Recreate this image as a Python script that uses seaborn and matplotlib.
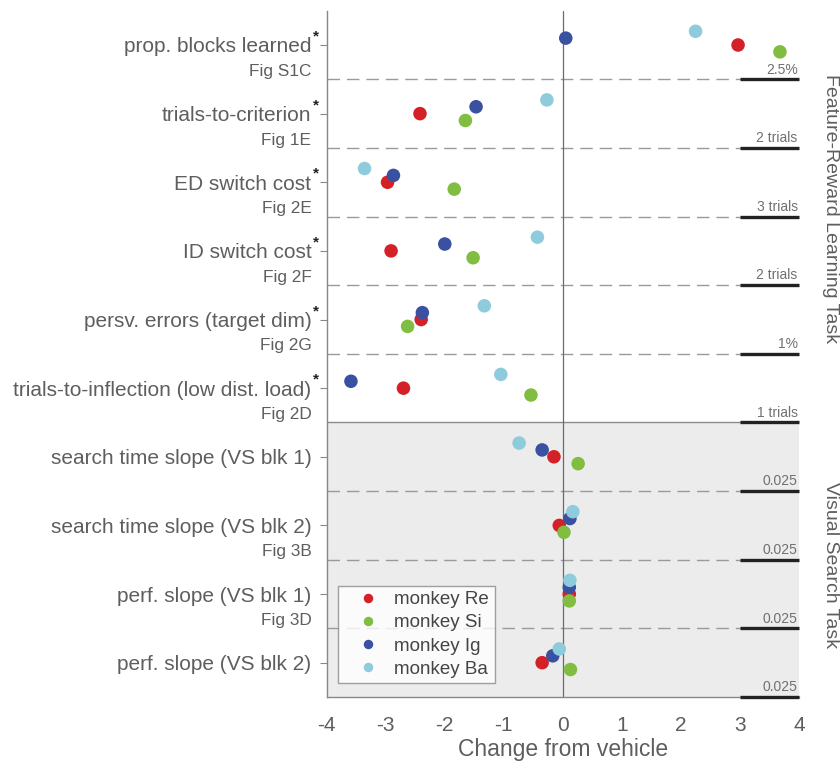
import matplotlib.pyplot as plt
import matplotlib.transforms as mtransforms
import numpy as np
import pandas as pd
import seaborn as sns

measures = ['prop. blocks learned', 'trials-to-criterion', 'ED switch cost',
            'ID switch cost', 'persv. errors (target dim)',
            'trials-to-inflection (low dist. load)',
            'search time slope (VS blk 1)', 'search time slope (VS blk 2)',
            'perf. slope (VS blk 1)', 'perf. slope (VS blk 2)']
fig_refs = ['Fig S1C', 'Fig 1E', 'Fig 2E', 'Fig 2F', 'Fig 2G', 'Fig 2D',
            '', 'Fig 3B', 'Fig 3D', '']
starred = [True, True, True, True, True, True, False, False, False, False]
scale_labels = ['2.5%', '2 trials', '3 trials', '2 trials', '1%', '1 trials',
                '0.025', '0.025', '0.025', '0.025']

monkeys = ['monkey Re', 'monkey Si', 'monkey Ig', 'monkey Ba']
re_vals = [2.97, -2.42, -2.97, -2.91, -2.40, -2.70, -0.15, -0.06, 0.11, -0.35]
si_vals = [3.68, -1.65, -1.84, -1.52, -2.63, -0.54, 0.26, 0.02, 0.11, 0.13]
ig_vals = [0.05, -1.47, -2.87, -2.00, -2.38, -3.59, -0.35, 0.12, 0.11, -0.17]
ba_vals = [2.25, -0.27, -3.36, -0.43, -1.33, -1.05, -0.74, 0.17, 0.12, -0.06]

colors = ['#d42027', '#80bd41', '#3a51a1', '#8ecbdc']
offsets = [0.0, 0.1, -0.1, -0.2]

frames = []
for name, vals, off in zip(monkeys, [re_vals, si_vals, ig_vals, ba_vals], offsets):
    frames.append(pd.DataFrame({'change': vals,
                                'row': np.arange(len(measures)) + off,
                                'monkey': name}))
df = pd.concat(frames, ignore_index=True)

sns.set_style('white')
plt.rcParams['font.family'] = ['Liberation Sans', 'DejaVu Sans']
plt.rcParams['axes.unicode_minus'] = False
txt = '#5e5e5e'

fig = plt.figure(figsize=(8.4, 7.63), dpi=100)
ax = fig.add_axes([0.389, 0.0865, 0.562, 0.8995])

ax.axhspan(5.5, 9.5, color='#ececec', zorder=0, lw=0)
for k in range(len(measures)):
    yb = k + 0.5
    if k == 5:
        ax.axhline(yb, color='#8a8a8a', lw=1.0, zorder=1)
    elif k < 9:
        ax.axhline(yb, color='#9a9a9a', lw=1.0, ls=(0, (9, 5)), zorder=1)
    ax.plot([3.0, 4.0], [yb, yb], color='#222222', lw=2.4, zorder=3,
            solid_capstyle='butt', clip_on=False)
    ax.text(3.98, yb - 0.04, scale_labels[k], ha='right', va='bottom',
            fontsize=10, color='#707070')
ax.axvline(0, color='#6a6a6a', lw=0.9, zorder=1)

sns.scatterplot(data=df, x='change', y='row', hue='monkey', hue_order=monkeys,
                palette=colors, s=95, edgecolor='none', linewidth=0, ax=ax,
                zorder=4)

ax.set_xlim(-4, 4)
ax.set_ylim(9.5, -0.5)
ax.set_xticks(range(-4, 5))
ax.set_yticks(range(len(measures)))
ax.set_yticklabels(measures)
ax.tick_params(axis='x', direction='in', length=4, color='#888888',
               labelsize=15, labelcolor=txt, pad=14)
ax.tick_params(axis='y', direction='out', length=5, color='#888888',
               labelsize=15, labelcolor=txt, pad=6, left=True)
ax.set_xlabel('Change from vehicle', fontsize=16.5, color=txt, labelpad=2)
ax.set_ylabel('')
for side in ['top', 'right']:
    ax.spines[side].set_visible(False)
for side in ['left', 'bottom']:
    ax.spines[side].set_color('#888888')
    ax.spines[side].set_linewidth(1.0)

trans = mtransforms.blended_transform_factory(ax.transAxes, ax.transData)
for k in range(len(measures)):
    if starred[k]:
        ax.annotate('*', xy=(0, k), xycoords=trans, xytext=(-10, 1),
                    textcoords='offset points', ha='left', va='bottom',
                    fontsize=11, color='#222222', fontweight='bold')
    if fig_refs[k]:
        ax.annotate(fig_refs[k], xy=(0, k), xycoords=trans, xytext=(-11, -19),
                    textcoords='offset points', ha='right', va='center',
                    fontsize=12.4, color=txt)

ax.text(1.068, 2.38, 'Feature-Reward Learning Task', transform=trans,
        rotation=-90, ha='center', va='center', fontsize=14, color=txt)
ax.text(1.068, 7.58, 'Visual Search Task', transform=trans,
        rotation=-90, ha='center', va='center', fontsize=14, color=txt)

leg = ax.legend(loc='lower left', bbox_to_anchor=(0.024, 0.02),
                borderaxespad=0, fontsize=13.5, frameon=True, fancybox=False,
                markerscale=0.7, handlelength=2.6, handletextpad=0.1,
                labelspacing=0.32, borderpad=0.3, title=None)
leg.get_frame().set_edgecolor('#8a8a8a')
leg.get_frame().set_linewidth(1.0)
for t in leg.get_texts():
    t.set_color('#444444')

fig.savefig('out.png', dpi=100)
